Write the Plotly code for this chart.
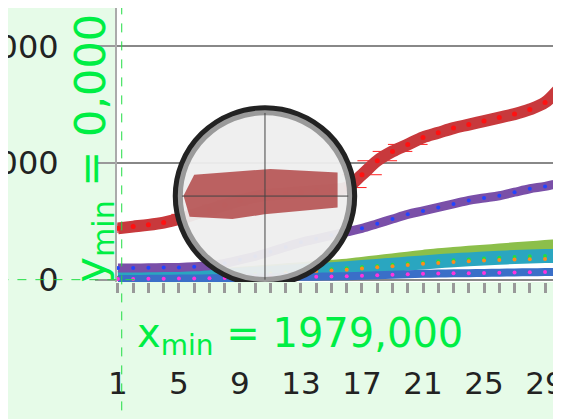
import plotly.graph_objects as go

days = list(range(1, 32))
red = [440, 455, 470, 490, 520, 560, 600, 640, 680, 710, 730, 740, 750, 760, 770,
       790, 900, 1020, 1100, 1160, 1220, 1260, 1300, 1330, 1360, 1390, 1420, 1460, 1520, 1650, 1800]
red_err = [1.2, 1.2, 1.2, 1.2, 1.2, 1.5, 1.5, 1.5, 1.5, 1.5, 1.5, 1.5, 1.5, 1.5, 1.5,
           1.3, 1.3, 1.3, 1.3, 1.3, 0, 0, 0, 0, 0, 0, 0, 0, 0, 0, 0]
purple = [100, 100, 102, 104, 105, 110, 120, 140, 170, 200, 240, 280, 320, 350, 380,
          410, 440, 480, 520, 560, 590, 620, 650, 680, 700, 720, 750, 780, 800, 830, 850]
green = [20, 22, 24, 26, 28, 30, 35, 40, 50, 60, 70, 80, 90, 100, 110,
         120, 135, 150, 165, 180, 195, 210, 220, 230, 240, 250, 260, 270, 280, 290, 300]
teal = [15, 17, 19, 21, 23, 25, 30, 35, 42, 50, 58, 66, 74, 82, 90,
        98, 108, 118, 128, 138, 148, 158, 166, 174, 182, 188, 194, 198, 202, 206, 210]
orange = [10, 12, 14, 16, 18, 20, 24, 28, 34, 40, 46, 54, 62, 70, 78,
          86, 96, 106, 116, 126, 136, 144, 152, 158, 164, 168, 172, 176, 178, 180, 182]
magenta = [5, 6, 7, 8, 9, 10, 12, 14, 16, 18, 20, 22, 24, 26, 28,
           30, 34, 38, 42, 46, 50, 52, 54, 56, 58, 60, 62, 64, 65, 66, 67]

fig = go.Figure()
fig.add_trace(go.Scatter(x=days, y=green, mode="lines", line=dict(color="#8cbf4a", width=14, shape="spline")))
fig.add_trace(go.Scatter(x=days, y=teal, mode="lines+markers", line=dict(color="#2aa6c0", width=14, shape="spline"),
                         marker=dict(color="#22dd44", size=4)))
fig.add_trace(go.Scatter(x=days, y=orange, mode="markers", marker=dict(color="#ff8c1a", size=4)))
fig.add_trace(go.Scatter(x=days, y=magenta, mode="lines+markers", line=dict(color="#3a6fc8", width=8, shape="spline"),
                         marker=dict(color="#ff33dd", size=4)))
fig.add_trace(go.Scatter(x=days, y=purple, mode="lines+markers", line=dict(color="#7a4fa8", width=9, shape="spline"),
                         marker=dict(color="#2244ff", size=4)))
fig.add_trace(go.Scatter(x=days, y=red, mode="lines+markers", line=dict(color="#c8393c", width=12, shape="spline"),
                         marker=dict(color="#ff1111", size=5),
                         error_x=dict(type="data", array=red_err, color="#ff2020", thickness=1, width=0),
                         error_y=dict(type="constant", value=40, color="#ff2020", thickness=1, width=0)))

# magnifier glass
cx, cy = 10.64, 717
fig.add_shape(type="circle", xref="x", yref="y", x0=cx - 5.75, x1=cx + 5.75, y0=cy - 740, y1=cy + 740,
              fillcolor="rgba(0,0,0,0)", line=dict(color="#222222", width=9))
fig.add_shape(type="circle", xref="x", yref="y", x0=cx - 5.55, x1=cx + 5.55, y0=cy - 715, y1=cy + 715,
              fillcolor="rgba(238,238,238,0.95)", line=dict(color="#9a9a9a", width=5))
fig.add_shape(type="path", xref="x", yref="y",
              path="M 5.7 540 L 8.5 520 L 10.6 560 L 15.4 620 L 15.4 920 L 11.0 950 L 6.0 900 L 5.3 720 Z",
              fillcolor="rgba(170,50,50,0.75)", line=dict(width=0))
fig.add_shape(type="line", xref="x", yref="y", x0=cx, x1=cx, y0=0, y1=1430, line=dict(color="#444", width=1))
fig.add_shape(type="line", xref="x", yref="y", x0=5.2, x1=16.1, y0=cy, y1=cy, line=dict(color="#444", width=1))

# green min markers
fig.add_shape(type="line", xref="x", yref="paper", x0=1.25, x1=1.25, y0=-0.6, y1=1.05,
              line=dict(color="#22dd44", width=1, dash="dash"))
fig.add_shape(type="line", xref="paper", yref="y", x0=-0.3, x1=0.05, y0=0, y1=0,
              line=dict(color="#22dd44", width=1, dash="dash"))
fig.add_annotation(x=0.405, y=-0.3, xref="paper", yref="paper", text="x<sub>min</sub> = 1979,000",
                   showarrow=False, font=dict(family="DejaVu Sans", size=40, color="#00ee44"))
fig.add_annotation(x=-0.12, y=0.49, xref="paper", yref="paper", text="y<sub>min</sub> = 0,000",
                   showarrow=False, textangle=-90, font=dict(family="DejaVu Sans", size=43, color="#00ee44"))

fig.update_layout(
    width=561, height=419, showlegend=False,
    paper_bgcolor="#e6fbe8", plot_bgcolor="white",
    margin=dict(l=109, r=0, t=0, b=145, autoexpand=False),
    xaxis=dict(range=[0.94, 30.57], tickvals=[1, 5, 9, 13, 17, 21, 25, 29], ticks="outside", ticklen=10,
               tickcolor="#999", tickwidth=3, showgrid=False, showline=False, zeroline=False,
               ticklabelstandoff=64, tickfont=dict(family="DejaVu Sans", size=31, color="#222"),
               minor=dict(dtick=1, ticks="outside", ticklen=10, tickcolor="#999", tickwidth=3)),
    yaxis=dict(range=[-20, 2330], tickvals=[0, 1000, 2000], showgrid=True, gridcolor="#888", gridwidth=2,
               zeroline=False, showline=True, linecolor="#aaa", linewidth=2, automargin=False,
               ticks="outside", ticklen=20, tickcolor="#999", tickwidth=2, ticklabelstandoff=30,
               tickfont=dict(family="DejaVu Sans", size=32, color="#222")),
)

fig.write_html("out.html")
